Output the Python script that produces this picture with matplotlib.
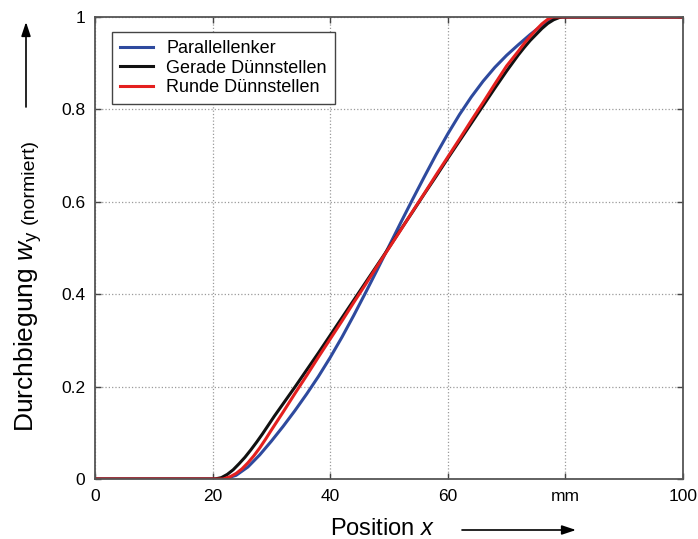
import matplotlib
matplotlib.use("Agg")
import matplotlib.pyplot as plt

plt.rcParams['font.family'] = ['Liberation Sans', 'DejaVu Sans']
plt.rcParams['mathtext.fontset'] = 'custom'
plt.rcParams['mathtext.rm'] = 'Liberation Sans'
plt.rcParams['mathtext.it'] = 'Liberation Sans:italic'

# values (position in mm, normalised deflection)
x_parallel = [0, 22.0, 24, 26, 28, 30, 32, 34, 36, 38, 40, 42, 44, 46, 48, 50,
              52, 54, 56, 58, 60, 62, 64, 66, 68, 70, 72, 74, 76, 78, 79, 100]
y_parallel = [0, 0, 0.008, 0.026, 0.052, 0.082, 0.114, 0.148, 0.184, 0.222, 0.263,
              0.307, 0.354, 0.403, 0.453, 0.504, 0.555, 0.605, 0.654, 0.702, 0.747,
              0.789, 0.827, 0.861, 0.891, 0.917, 0.940, 0.962, 0.982, 0.997, 1.0, 1.0]

x_gerade = [0, 20.4, 21.5, 22.5, 23.5, 24.5, 25.5, 26.5, 27.5, 28.5, 29.5, 30.5,
            32, 34, 36, 38, 40, 42, 44, 46, 48, 50, 52, 54, 56, 58, 60, 62, 64,
            66, 68, 70, 72, 73, 74, 75, 76, 77, 78, 79, 79.5, 100]
y_gerade = [0, 0, 0.003, 0.010, 0.020, 0.033, 0.047, 0.063, 0.080, 0.098, 0.117,
            0.136, 0.163, 0.199, 0.236, 0.273, 0.311, 0.349, 0.387, 0.425, 0.463,
            0.501, 0.540, 0.578, 0.617, 0.655, 0.694, 0.732, 0.770, 0.808, 0.846,
            0.883, 0.918, 0.934, 0.949, 0.962, 0.975, 0.986, 0.994, 0.999, 1.0, 1.0]

x_runde = [0, 21.8, 23, 24, 25, 26, 27, 28, 29, 30, 32, 34, 36, 38, 40, 42, 44,
           46, 48, 50, 52, 54, 56, 58, 60, 62, 64, 66, 68, 70, 72, 73, 74, 75,
           76, 77, 77.8, 100]
y_runde = [0, 0, 0.005, 0.012, 0.022, 0.035, 0.050, 0.067, 0.086, 0.106, 0.145,
           0.185, 0.224, 0.264, 0.303, 0.342, 0.382, 0.421, 0.461, 0.500, 0.539,
           0.579, 0.618, 0.658, 0.697, 0.736, 0.776, 0.815, 0.855, 0.894, 0.926,
           0.943, 0.958, 0.972, 0.985, 0.995, 1.0, 1.0]

series_labels = ['Parallellenker', 'Gerade Dünnstellen', 'Runde Dünnstellen']
series_colors = ['#2e4a9e', '#111111', '#e4201f']

x_ticks = [0, 20, 40, 60, 80, 100]
x_ticklabels = ['0', '20', '40', '60', 'mm', '100']
y_ticks = [0, 0.2, 0.4, 0.6, 0.8, 1.0]
y_ticklabels = ['0', '0.2', '0.4', '0.6', '0.8', '1']

W, H = 698, 539
fig = plt.figure(figsize=(W / 100, H / 100), dpi=100)
ax = fig.add_axes([95 / W, 60 / H, 588 / W, 462 / H])

for xs, ys, lab, col in zip([x_parallel, x_gerade, x_runde],
                            [y_parallel, y_gerade, y_runde],
                            series_labels, series_colors):
    ax.plot(xs, ys, color=col, lw=2.2, label=lab, solid_joinstyle='round')

ax.set_xlim(0, 100)
ax.set_ylim(0, 1)
ax.set_xticks(x_ticks)
ax.set_xticklabels(x_ticklabels)
ax.set_yticks(y_ticks)
ax.set_yticklabels(y_ticklabels)
ax.tick_params(direction='in', top=True, right=True, length=4, width=1,
               color='#444444', labelsize=12.5)
ax.tick_params(axis='x', pad=7)
ax.tick_params(axis='y', pad=7)
for s in ax.spines.values():
    s.set_color('#555555')
    s.set_linewidth(1.3)
ax.grid(True, linestyle=':', color='#9a9a9a', lw=0.9)

leg = ax.legend(loc='upper left', bbox_to_anchor=(0.0294, 0.968), borderaxespad=0,
                fontsize=13, frameon=True, fancybox=False, framealpha=1,
                edgecolor='#444444', handlelength=1.8, handletextpad=0.75,
                labelspacing=0.15, borderpad=0.45)
leg.get_frame().set_linewidth(1.0)

# y label: main part plus small "(normiert)"
ylab = fig.text(34 / W, 1 - 432 / H, r'Durchbiegung $w_{\mathrm{y}}$', rotation=90,
                rotation_mode='anchor', ha='left', va='baseline', fontsize=19)
fig.canvas.draw()
bb = ylab.get_window_extent()
fig.text(34 / W, (bb.y1 + 6) / H, '(normiert)', rotation=90,
         rotation_mode='anchor', ha='left', va='baseline', fontsize=14)

# x label
fig.text(330 / W, 1 - 535 / H, r'Position $x$', ha='left', va='baseline', fontsize=17)

# arrows
arrow = dict(arrowstyle='-|>,head_length=0.6,head_width=0.2', color='black',
             lw=1.2, mutation_scale=14, shrinkA=0, shrinkB=0)
ax.annotate('', xy=(26 / W, 1 - 22 / H), xycoords='figure fraction',
            xytext=(26 / W, 1 - 107 / H), textcoords='figure fraction', arrowprops=arrow)
ax.annotate('', xy=(576 / W, 1 - 530 / H), xycoords='figure fraction',
            xytext=(462 / W, 1 - 530 / H), textcoords='figure fraction', arrowprops=arrow)

fig.savefig('out.png', dpi=100)
